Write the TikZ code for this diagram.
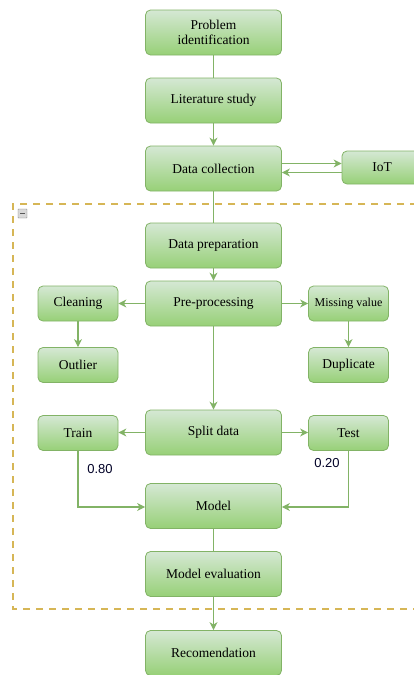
\documentclass[tikz,border=0pt]{standalone}
\usepackage{fontspec}
\setmainfont{Liberation Serif}
\newfontfamily\labelsans{Liberation Sans}
\usetikzlibrary{arrows.meta}
\definecolor{boxstroke}{HTML}{82B366}
\definecolor{boxtop}{HTML}{D5E8D4}
\definecolor{boxbot}{HTML}{97D077}
\definecolor{dashgold}{HTML}{D6B656}
\tikzset{
  box/.style={draw=boxstroke, line width=0.8pt, rounded corners=5pt, top color=boxtop, bottom color=boxbot, font=\fontsize{13.5}{15}\selectfont, align=center, inner sep=0pt, text=black},
  bigbox/.style={box, minimum width=136pt, minimum height=45pt},
  smallbox/.style={box, minimum width=80pt, minimum height=35pt},
  conn/.style={draw=boxstroke, line width=1.1pt},
  arr/.style={conn, -{Stealth[length=8pt,width=8pt,inset=2.5pt]}},
  ratio/.style={font=\labelsans\fontsize{13}{14}\selectfont, text=black!85!blue, inner sep=0pt}
}
\begin{document}
\begin{tikzpicture}[x=1pt,y=-1pt]
\useasboundingbox (0,0) rectangle (413,675);
% dashed group box
\draw[dashgold, line width=1.6pt, dash pattern=on 7pt off 6pt] (430,204) -- (13,204) -- (13,609) -- (430,609);
% collapse icon
\node[draw=gray, fill=gray!30, minimum width=9pt, minimum height=9pt, inner sep=0pt, rounded corners=0.5pt] (icon) at (22.5,213.5) {};
\draw[gray!70!black, line width=1pt] ([xshift=-2.5pt]icon.center) -- ([xshift=2.5pt]icon.center);

\node[bigbox] (pi) at (213.5,32.5) {Problem\\identification};
\node[bigbox] (ls) at (213.5,100.5) {Literature study};
\node[bigbox] (dc) at (213.5,168.5) {Data collection};
\node[box, minimum width=80pt, minimum height=33pt] (iot) at (382,167.5) {IoT};
\node[bigbox] (dp) at (213.5,245.5) {Data preparation};
\node[bigbox] (pp) at (213.5,303.5) {Pre-processing};
\node[smallbox] (cl) at (78,303.5) {Cleaning};
\node[smallbox] (ou) at (78,365) {Outlier};
\node[smallbox, font=\fontsize{12}{13}\selectfont] (mv) at (348.5,303.5) {Missing value};
\node[smallbox] (du) at (348.5,365) {Duplicate};
\node[bigbox] (sd) at (213.5,432.5) {Split data};
\node[smallbox] (tr) at (78,433) {Train};
\node[smallbox] (te) at (348.5,433) {Test};
\node[bigbox] (mo) at (213.5,506) {Model};
\node[bigbox] (me) at (213.5,574) {Model evaluation};
\node[bigbox] (re) at (213.5,653) {Recomendation};

\draw[conn] (pi) -- (ls);
\draw[arr] (ls) -- (dc);
\draw[arr] ([yshift=5pt]dc.east) -- ([yshift=5pt]dc.east -| iot.west);
\draw[arr] ([yshift=-4pt]dc.east -| iot.west) -- ([yshift=-4pt]dc.east);
\draw[conn] (dc) -- (dp);
\draw[arr] (dp) -- (pp);
\draw[arr] (pp) -- (cl);
\draw[arr] (pp) -- (mv);
\draw[arr] (cl) -- (ou);
\draw[arr] (mv) -- (du);
\draw[arr] (pp) -- (sd);
\draw[arr] (sd.west) -- (sd.west -| tr.east);
\draw[arr] (sd.east) -- (sd.east -| te.west);
\coordinate (trc) at (78,507);
\coordinate (tec) at (348.5,507);
\draw[arr] (tr.south) -- (trc) -- (trc -| mo.west);
\draw[arr] (te.south) -- (tec) -- (tec -| mo.east);
\draw[conn] (mo) -- (me);
\draw[arr] (me) -- (re);

\node[ratio] (l80) at (100,469) {0.80};
\node[ratio] (l20) at (327,463) {0.20};
\end{tikzpicture}
\end{document}
